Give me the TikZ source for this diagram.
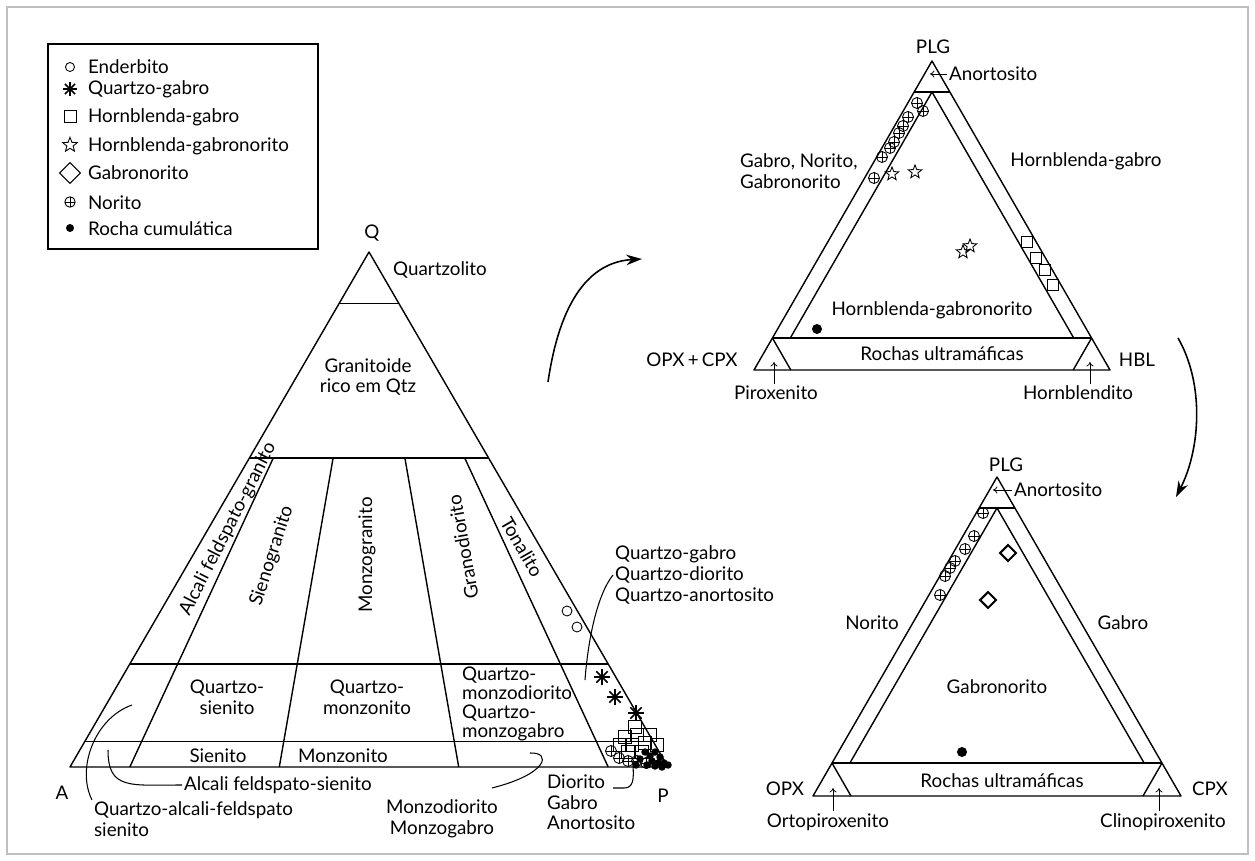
\documentclass[tikz,border=0pt]{standalone}
\usepackage{fontspec}
\setmainfont{Lato}
\usepackage{tikz}
\usetikzlibrary{arrows.meta,calc}
\tikzset{
  % text
  lbl/.style={font=\fontsize{10.7}{11.7}\selectfont, inner sep=1pt, align=center},
  rot/.style={lbl, rotate=#1},
  % lines
  tri/.style={line width=0.8pt, line join=round},
  lead/.style={line width=0.6pt},
  sym/.style={line width=0.5pt},
  bigarr/.style={-{Stealth[length=9pt,width=6pt]}, line width=0.9pt},
  smallarr/.style={-{To[length=2.5pt,width=4pt]}, line width=0.45pt},
  % symbols
  enderb/.pic={\draw[sym] (0,0) circle (0.1cm);},
  qgab/.pic={\foreach \a in {0,45,90,135} \draw[line width=0.9pt] (\a:0.16cm) -- (\a+180:0.16cm);
             \fill (0,0) circle (0.05cm);},
  hbgab/.pic={\draw[sym] (-0.12cm,-0.12cm) rectangle (0.12cm,0.12cm);},
  hbgn/.pic={\draw[sym] (90:0.14cm) -- (126:0.06cm) -- (162:0.14cm) -- (198:0.06cm) -- (234:0.14cm)
             -- (270:0.06cm) -- (306:0.14cm) -- (342:0.06cm) -- (18:0.14cm) -- (54:0.06cm) -- cycle;},
  gabn/.pic={\draw (0,0.16cm) -- (0.16cm,0) -- (0,-0.16cm) -- (-0.16cm,0) -- cycle;},
  norit/.pic={\draw[sym] (0,0) circle (0.11cm); \draw[sym] (-0.11cm,0) -- (0.11cm,0) (0,-0.11cm) -- (0,0.11cm);},
  cumul/.pic={\fill (0,0) circle (0.1cm);},
}

\begin{document}
\begin{tikzpicture}[x=0.02cm, y=-0.02cm]
    \useasboundingbox (0,0) rectangle (1255,861);
    \draw[gray!50, line width=0.6pt] (7,7) rectangle (1248,854);

    % legend
    \draw[line width=0.8pt] (48,44) rectangle (318,249);
    \pic[scale=0.9] at (70,67) {enderb};
    \pic[scale=0.9] at (70,89) {qgab};
    \pic at (70,116) {hbgab};
    \pic[scale=1.1] at (70,145) {hbgn};
    \pic[scale=1.3, line width=0.6pt] at (70,173) {gabn};
    \pic[scale=0.95] at (70,202) {norit};
    \pic[scale=0.8] at (70,228) {cumul};
    \node[lbl, anchor=west] (kEnd) at (86,67) {Enderbito};
    \node[lbl, anchor=west] (kQgb) at (86,89) {Quartzo-gabro};
    \node[lbl, anchor=west] (kHbg) at (86,117) {Hornblenda-gabro};
    \node[lbl, anchor=west] (kHgn) at (86,146) {Hornblenda-gabronorito};
    \node[lbl, anchor=west] (kGbn) at (86,173) {Gabronorito};
    \node[lbl, anchor=west] (kNor) at (86,203) {Norito};
    \node[lbl, anchor=west] (kCum) at (86,229) {Rocha cumulática};

    % QAP triangle
    \draw[tri] (70,767) -- (369,252) -- (668,767) -- cycle;
    \draw[tri] (339.1,303.5) -- (398.9,303.5);
    \draw[tri] (249.4,458) -- (488.6,458);
    \draw[tri] (129.8,664) -- (608.2,664);
    \draw[tri] (85,741.3) -- (653,741.3);
    \draw[tri] (273.3,458) -- (129.8,767);
    \draw[tri] (333.1,458) -- (279.3,767);
    \draw[tri] (404.9,458) -- (458.7,767);
    \draw[tri] (464.7,458) -- (608.2,767);

    \node[lbl] (lQ) at (372,233) {Q};
    \node[lbl] (lA) at (62,793) {A};
    \node[lbl] (lP) at (663,796) {P};
    \node[lbl] (lqzl) at (440,270) {Quartzolito};
    \node[lbl] (lgrq) at (368,377) {Granitoide\\rico em Qtz};
    \node[rot=63] (lafg) at (228,529) {Alcali feldspato-granito};
    \node[rot=72] (lsg) at (272,556) {Sienogranito};
    \node[rot=90] (lmg) at (367,555) {Monzogranito};
    \node[rot=100] (lgd) at (463,547) {Granodiorito};
    \node[rot=-60] (lton) at (522,547) {Tonalito};
    \node[lbl] (lqs) at (227,697) {Quartzo-\\sienito};
    \node[lbl] (lqm) at (367,697) {Quartzo-\\monzonito};
    \node[lbl, align=left, anchor=west, font=\fontsize{10.7}{10.9}\selectfont] (lqmd) at (460,704)
        {Quartzo-\\monzodiorito\\Quartzo-\\monzogabro};
    \node[lbl] (lsie) at (218,756) {Sienito};
    \node[lbl] (lmzn) at (343,756) {Monzonito};

    % callouts
    \node[lbl, anchor=west] (lafs) at (182,785) {Alcali feldspato-sienito};
    \node[lbl, align=left, anchor=north west] (lqafs) at (92,800) {Quartzo-alcali-feldspato\\sienito};
    \node[lbl] (lmzd) at (442,819) {Monzodiorito\\Monzogabro};
    \node[lbl, align=left, anchor=north west] (ldga) at (545,773) {Diorito\\Gabro\\Anortosito};
    \node[lbl, align=left, anchor=west] (lqg) at (613,575) {Quartzo-gabro\\Quartzo-diorito\\Quartzo-anortosito};
    \coordinate (cafs) at (108,750);
    \coordinate (cqafs) at (132,705);
    \coordinate (cmzd) at (530,753);
    \coordinate (cdga) at (633,766);
    \coordinate (cqg) at (585,680);
    \draw[lead] (cafs) .. controls (108,790) and (130,785) .. (lafs.west);
    \draw[lead] (cqafs) .. controls (95,718) and (76,768) .. (lqafs.north west);
    \draw[lead] (cmzd) .. controls (552,752) and (548,774) .. ($(lmzd.north east)+(-8,-10)$);
    \draw[lead] ($(ldga.north west)+(68,15)$) -- (624,788) .. controls (633,788) and (634,780) .. (cdga);
    \draw[lead] (lqg.west) .. controls (597,595) and (588,640) .. (cqg);

    % QAP data
    \foreach \p in {(567,611),(577,627)} \pic at \p {enderb};
    \foreach \p in {(602,677),(615,697),(636,713)} \pic at \p {qgab};
    \foreach \p in {(635,727),(625,737),(637,735),(650,735),(620,745),(632,745),(645,743),(657,745),(628,752),(642,752)}
        \pic[scale=1.1] at \p {hbgab};
    \foreach \p in {(611,751),(619,758),(628,761),(637,761),(646,763)} \pic at \p {norit};
    \foreach \p in {(645,752),(650,756),(655,752),(660,757),(652,761),(658,763),(664,763),(668,765),
                    (640,759),(647,765),(655,766),(662,767),(636,765)}
        \pic[scale=0.75] at \p {cumul};

    % arrows between diagrams
    \coordinate (a1s) at (548,382);
    \coordinate (a1e) at (642,259);
    \coordinate (a2s) at (1178,338);
    \coordinate (a2e) at (1176,497);
    \draw[bigarr] (a1s) .. controls (560,300) and (590,262) .. (a1e);
    \draw[bigarr] (a2s) .. controls (1205,385) and (1200,450) .. (a2e);

    % PLG - OPX+CPX - HBL
    \draw[tri] (932,61) -- (754,370) -- (1110,370) -- cycle;
    \draw[tri] (914.1,92) -- (949.9,92);
    \draw[tri] (790.3,338) -- (932,92) -- (1073.7,338);
    \draw[tri] (772.4,338) -- (1091.6,338);
    \draw[tri] (772.4,338) -- (790.8,370);
    \draw[tri] (1091.6,338) -- (1073.2,370);

    \node[lbl] (lplg1) at (933,47) {PLG};
    \node[lbl, anchor=west] (lano1) at (947,74) {Anortosito};
    \coordinate (cano1) at (930,74);
    \draw[smallarr] (lano1.west) -- (cano1);
    \node[lbl, align=left, anchor=west] (lgng) at (738,171) {Gabro, Norito,\\Gabronorito};
    \node[lbl] (lhbg) at (1086,161) {Hornblenda-gabro};
    \node[lbl] (lhbgn) at (932,310) {Hornblenda-gabronorito};
    \node[lbl] (lru1) at (942,354) {Rochas ultramáficas};
    \node[lbl] (lopc) at (692,360) {OPX\,+\,CPX};
    \node[lbl] (lhbl) at (1137,360) {HBL};
    \node[lbl] (lpir) at (776,393) {Piroxenito};
    \node[lbl] (lhbd) at (1078,393) {Hornblendito};
    \coordinate (cpir) at (774,362);
    \coordinate (chbd) at (1090,362);
    \draw[smallarr] (cpir |- lpir.north) -- (cpir);
    \draw[smallarr] (chbd |- lhbd.north) -- (chbd);

    \foreach \p in {(917,103),(923,111),(908,117),(903,126),(899,133),(894,142),(890,148),(882,157),(874,178)}
        \pic at \p {norit};
    \foreach \p in {(892,174),(915,172),(963,252),(970,246)} \pic at \p {hbgn};
    \foreach \p in {(1027,242),(1036,258),(1045,270),(1053,285)} \pic[scale=0.9] at \p {hbgab};
    \pic at (817,329) {cumul};

    % PLG - OPX - CPX
    \draw[tri] (997,477) -- (813,796) -- (1181,796) -- cycle;
    \draw[tri] (979.1,508) -- (1014.9,508);
    \draw[tri] (849.9,763) -- (997,508) -- (1144.1,763);
    \draw[tri] (832,763) -- (1162,763);
    \draw[tri] (832,763) -- (851,796);
    \draw[tri] (1162,763) -- (1143,796);

    \node[lbl] (lplg2) at (1006,465) {PLG};
    \node[lbl, anchor=west] (lano2) at (1012,490) {Anortosito};
    \coordinate (cano2) at (993,490);
    \draw[smallarr] (lano2.west) -- (cano2);
    \node[lbl] (lnor) at (872,623) {Norito};
    \node[lbl] (lgab) at (1123,623) {Gabro};
    \node[lbl] (lgbn) at (997,687) {Gabronorito};
    \node[lbl] (lru2) at (1002,781) {Rochas ultramáficas};
    \node[lbl] (lopx) at (785,789) {OPX};
    \node[lbl] (lcpx) at (1210,789) {CPX};
    \node[lbl] (lort) at (828,822) {Ortopiroxenito};
    \node[lbl] (lcli) at (1163,822) {Clinopiroxenito};
    \coordinate (cort) at (833,788);
    \coordinate (ccli) at (1159,788);
    \draw[smallarr] (cort |- lort.north) -- (cort);
    \draw[smallarr] (ccli |- lcli.north) -- (ccli);

    \foreach \p in {(983,513),(974,536),(965,549),(955,561),(950,568),(945,576),(940,595)} \pic at \p {norit};
    \foreach \p in {(1008,553),(988,600)} \pic[line width=1.2pt] at \p {gabn};
    \pic at (962,752) {cumul};
\end{tikzpicture}
\end{document}
